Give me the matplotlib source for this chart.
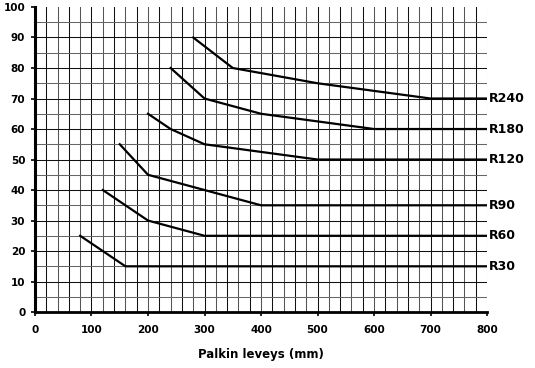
import matplotlib
matplotlib.use("Agg")
import matplotlib.pyplot as plt
import numpy as np

# fire resistance curves: beam width (mm) -> value
r30_x = [80, 160, 800]
r30_y = [25, 15, 15]
r60_x = [120, 200, 300, 800]
r60_y = [40, 30, 25, 25]
r90_x = [150, 200, 300, 400, 800]
r90_y = [55, 45, 40, 35, 35]
r120_x = [200, 240, 300, 500, 800]
r120_y = [65, 60, 55, 50, 50]
r180_x = [240, 300, 400, 600, 800]
r180_y = [80, 70, 65, 60, 60]
r240_x = [280, 350, 500, 700, 800]
r240_y = [90, 80, 75, 70, 70]

curves = [("R30", r30_x, r30_y), ("R60", r60_x, r60_y), ("R90", r90_x, r90_y),
          ("R120", r120_x, r120_y), ("R180", r180_x, r180_y), ("R240", r240_x, r240_y)]

fig = plt.figure(figsize=(5.35, 3.68), dpi=100)
ax = fig.add_axes([0.0654, 0.152, 0.845, 0.829])

# grid every 20 mm / 5 units
for x in np.arange(20, 801, 20):
    ax.axvline(x, color="#111111" if x % 40 else "#555555", lw=0.75, zorder=1)
for y in np.arange(5, 100, 5):
    ax.axhline(y, color="#111111" if y % 10 == 0 else "#666666", lw=0.75, zorder=1)

for name, xs, ys in curves:
    ax.plot(xs, ys, color="black", lw=1.6, zorder=3)
    ax.text(xs[-1] + 3, ys[-1], name, fontsize=9, fontweight="bold",
            va="center", ha="left", clip_on=False)

ax.set_xlim(0, 800)
ax.set_ylim(0, 100)
ax.set_xticks(np.arange(0, 801, 100))
ax.set_yticks(np.arange(0, 101, 10))
for lab in ax.get_xticklabels() + ax.get_yticklabels():
    lab.set_fontweight("bold")
ax.tick_params(labelsize=7.5, length=3, width=1.2, pad=4)
ax.tick_params(axis="x", pad=6)
ax.spines["top"].set_visible(False)
ax.spines["right"].set_visible(False)
ax.spines["left"].set_linewidth(2.2)
ax.spines["bottom"].set_linewidth(2)
ax.set_xlabel("Palkin leveys (mm)", fontsize=8.5, fontweight="bold", labelpad=10)

fig.savefig("out.png", dpi=100)
